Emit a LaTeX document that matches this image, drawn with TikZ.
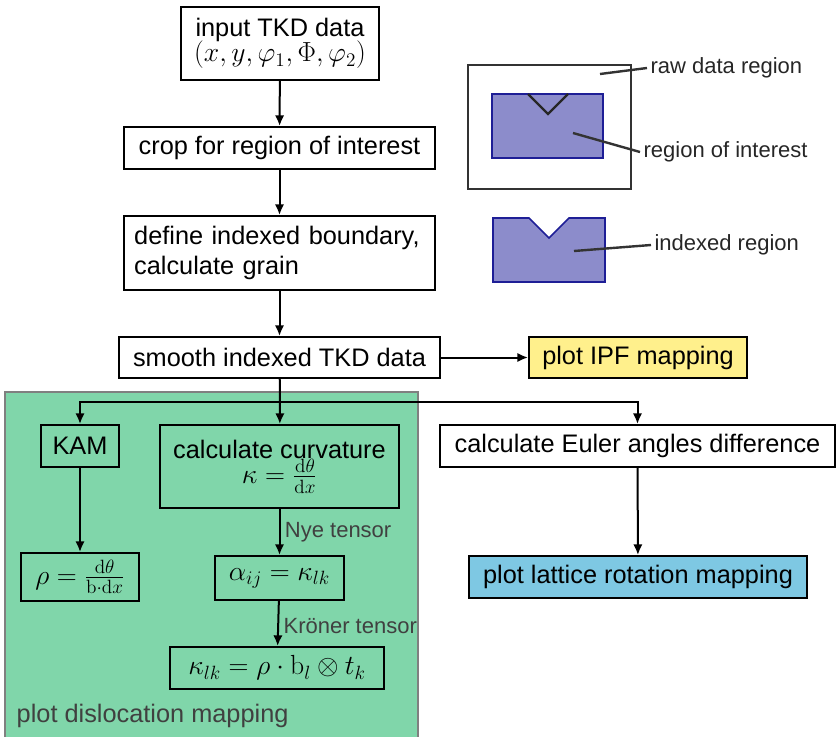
\documentclass[tikz,border=0pt]{standalone}
\usepackage{amsmath}
\usepackage[no-math]{fontspec}
\setmainfont{Liberation Sans}
\usetikzlibrary{arrows.meta}

\definecolor{dislgreen}{RGB}{128,214,170}
\definecolor{ipfyellow}{RGB}{255,240,140}
\definecolor{rotblue}{RGB}{126,200,227}
\definecolor{roipurple}{RGB}{140,140,203}
\definecolor{roinavy}{RGB}{30,30,150}
\definecolor{labelgray}{RGB}{64,64,64}

\newcommand{\formula}[1]{{\fontsize{21.5}{25}\selectfont$#1$}}

\tikzset{
  stepbox/.style={draw, line width=1.5pt, inner sep=0pt, align=center,
    font=\fontsize{19}{23}\selectfont},
  flow/.style={line width=1.5pt, -{Latex[length=8pt,width=7pt]}},
  tag/.style={font=\fontsize{16.5}{19}\selectfont, text=labelgray},
  pointer/.style={line width=1.8pt, draw=black!80}
}

\begin{document}
\begin{tikzpicture}[x=0.75pt,y=0.75pt,yscale=-1,xscale=1]
\useasboundingbox (0,0) rectangle (836,736);

%Shape: dislocation region [id:background]
\draw [draw=gray, fill=dislgreen, line width=0.8pt] (5,392) rectangle (418,740);

% Text Node
\node [stepbox, minimum width=148.5pt, minimum height=54.75pt] (input) at (280,43.5) {input TKD data\\[-4pt]\formula{(x,y,\varphi_1,\Phi,\varphi_2)}};
% Text Node
\node [stepbox, minimum width=233.25pt, minimum height=31.5pt] (crop) at (279.5,148) {crop for region of interest};
% Text Node
\node [stepbox, minimum width=233.25pt, minimum height=55.5pt, text width=218pt, align=left] (define) at (279.5,253) {define indexed boundary,\\calculate grain};
% Text Node
\node [stepbox, minimum width=240.75pt, minimum height=30.75pt] (smooth) at (279.5,357.5) {smooth indexed TKD data};
% Text Node
\node [stepbox, fill=ipfyellow, minimum width=163.5pt, minimum height=30.75pt] (ipf) at (638,357.5) {plot IPF mapping};

%Straight Lines [id:split]
\coordinate (split) at (280,402);

% Text Node
\node [stepbox, minimum width=58.5pt, minimum height=31.5pt] (kam) at (80,446) {KAM};
% Text Node
\node [stepbox, minimum width=179.25pt, minimum height=62.25pt] (curv) at (279.5,466.5) {calculate curvature\\[-4pt]\formula{\kappa=\frac{\mathrm{d}\theta}{\mathrm{d}x}}};
% Text Node
\node [stepbox, minimum width=296.25pt, minimum height=31.5pt] (euler) at (637.5,446) {calculate Euler angles difference};
% Text Node
\node [stepbox, minimum width=88.5pt, minimum height=36pt] (rho) at (80,577) {\formula{\rho=\frac{\mathrm{d}\theta}{\mathrm{b}\cdot\mathrm{d}x}}};
% Text Node
\node [stepbox, minimum width=96.75pt, minimum height=33pt] (alpha) at (279.5,578) {\formula{\alpha_{ij}=\kappa_{lk}}};
% Text Node
\node [stepbox, minimum width=160.5pt, minimum height=31.5pt] (klk) at (277,668) {\formula{\kappa_{lk}=\rho\cdot\mathrm{b}_l\otimes t_k}};
% Text Node
\node [stepbox, fill=rotblue, minimum width=253.5pt, minimum height=31.5pt] (lattice) at (638,577) {plot lattice rotation mapping};

% Text Node
\node [anchor=west, font=\fontsize{19}{23}\selectfont, text=labelgray] (disl) at (12,716) {plot dislocation mapping};

%Straight Lines [id:flow]
\draw [flow] (input) -- (crop);
\draw [flow] (crop) -- (define);
\draw [flow] (define) -- (smooth);
\draw [flow] (smooth) -- (ipf);
\draw [line width=1.5pt] (smooth) -- (split);
\draw [flow] (split) -| (kam);
\draw [flow] (split) -- (curv);
\draw [flow] (split) -| (euler);
\draw [flow] (kam) -- (rho);
\draw [flow] (curv) -- node [tag, right, pos=0.5] {Nye tensor} (alpha);
\draw [flow] (alpha) -- node [tag, right, pos=0.55] {Kr\"oner tensor} (klk);
\draw [flow] (euler) -- (lattice);

%Shape: raw data region [id:raw]
\draw [line width=1.8pt, draw=black!80] (468,65) rectangle (631,189);
%Shape: region of interest [id:roi]
\draw [line width=1.3pt, draw=roinavy, fill=roipurple] (492,94) rectangle (603,158);
\draw [line width=1.8pt, draw=black!85] (528,94) -- (548,114) -- (568,94);
%Shape: indexed region [id:idx]
\draw [line width=1.3pt, draw=roinavy, fill=roipurple] (493,218) -- (529,218) -- (549,238) -- (569,218) -- (605,218) -- (605,282) -- (493,282) -- cycle;

% Text Node
\node [anchor=west, tag, text=black!85, inner sep=2.5pt] (rawlbl) at (647,68) {raw data region};
% Text Node
\node [anchor=west, tag, text=black!85, inner sep=2.5pt] (roilbl) at (640,152) {region of interest};
% Text Node
\node [anchor=west, tag, text=black!85, inner sep=2.5pt] (idxlbl) at (651,245) {indexed region};

%Straight Lines [id:pointers]
\draw [pointer] (600,74) -- (rawlbl.west);
\draw [pointer] (573,133) -- (roilbl.west);
\draw [pointer] (574,251) -- (idxlbl.west);

\end{tikzpicture}
\end{document}
